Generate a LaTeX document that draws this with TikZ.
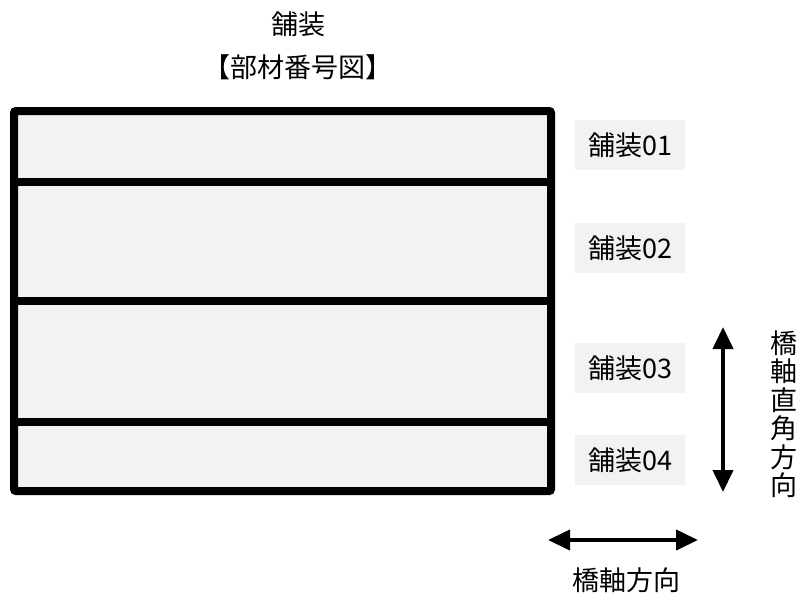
\documentclass[tikz,border=0pt]{standalone}
\usepackage{fontspec}
\setmainfont{Noto Sans CJK JP}
\usetikzlibrary{arrows.meta}
\definecolor{boxgray}{HTML}{F2F2F2}

\begin{document}
\begin{tikzpicture}[x=1pt,y=-1pt,
every node/.style={%anchor=center,
    inner sep=0pt, font=\fontsize{27}{28.5}\selectfont
    },
partlabel/.style={fill=boxgray, minimum width=110pt, minimum height=50pt},
paveline/.style={line width=8pt, draw=black},
dirarrow/.style={line width=4pt, {Triangle[length=22pt,width=20pt]}-{Triangle[length=22pt,width=20pt]}}
]
\useasboundingbox (0,0) rectangle (800,598);

% title
\node (title) at (298,24) {舗装};
\node (subtitle) at (298,67) {【部材番号図】};

% pavement panels
\fill[boxgray] (14,111) rectangle (551,491);
\foreach \y in {182,301,422}
    \draw [paveline] (14,\y) -- (551,\y);
\draw [paveline, rounded corners=2pt] (14,111) rectangle (551,491);

% part labels
\foreach \n/\y in {01/145,02/248,03/368,04/460}
    \node [partlabel] (p\n) at (630,\y) {舗装\n};

% directions
\coordinate (vtop) at (723,327);
\coordinate (vbot) at (723,492);
\draw [dirarrow] (vtop) -- (vbot);
\node [align=center] (vtext) at (784,414) {橋\\軸\\直\\角\\方\\向};

\coordinate (hleft) at (548,540);
\coordinate (hright) at (698,540);
\draw [dirarrow] (hleft) -- (hright);
\node (htext) at (626,580) {橋軸方向};
\end{tikzpicture}
\end{document}
